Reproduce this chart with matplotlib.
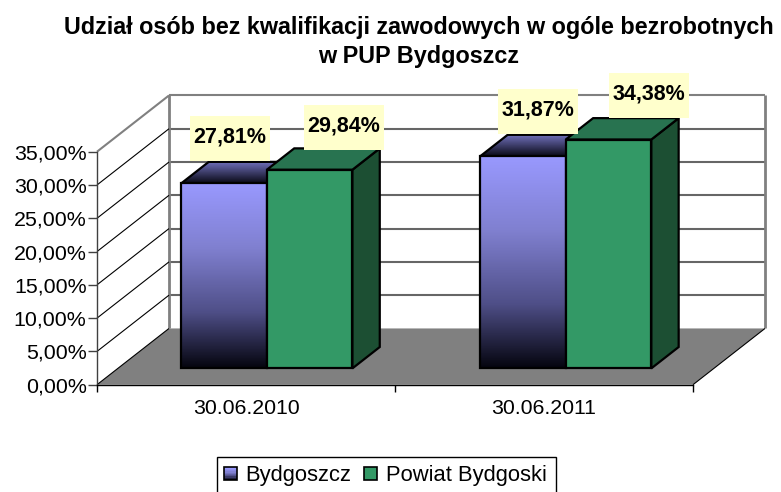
import numpy as np
import matplotlib
matplotlib.use("Agg")
import matplotlib.pyplot as plt
from matplotlib.colors import LinearSegmentedColormap
from matplotlib.legend_handler import HandlerBase
from matplotlib.patches import Patch, Polygon, Rectangle

plt.rcParams["font.family"] = ["Liberation Sans", "DejaVu Sans"]

title = "Udział osób bez kwalifikacji zawodowych w ogóle bezrobotnych\nw PUP Bydgoszcz"
categories = ["30.06.2010", "30.06.2011"]
series_names = ["Bydgoszcz", "Powiat Bydgoski"]
bydgoszcz = [27.81, 31.87]
powiat = [29.84, 34.38]
y_ticks = [0, 5, 10, 15, 20, 25, 30, 35]
y_labels = ["0,00%", "5,00%", "10,00%", "15,00%", "20,00%", "25,00%", "30,00%", "35,00%"]

# 3d look: how far the back wall is shifted from the front plane
DX = 72 / 298
DY = 8.45
D0 = 0.29
D1 = 0.67
W = 0.287
centers = [0.5, 1.503]

blue_cmap = LinearSegmentedColormap.from_list(
    "b", [(0, "#05050f"), (0.3, "#4f4f88"), (0.65, "#8080d0"), (1, "#9999ff")])
top_cmap = LinearSegmentedColormap.from_list("t", ["#0a0a18", "#7373bf"])
green = "#339966"
green_top = "#287350"
green_side = "#1c4f33"

fig = plt.figure(figsize=(7.81, 4.92), dpi=100)
ax = fig.add_axes([97 / 781, (492 - 384.7) / 492, 596 / 781, 233 / 492])


def proj(x, y, d):
    return (x + d * DX, y + d * DY)


def poly(points, **kw):
    p = Polygon(points, closed=True, clip_on=False, **kw)
    ax.add_patch(p)
    return p


def line(a, b, **kw):
    ax.plot([a[0], b[0]], [a[1], b[1]], clip_on=False, solid_capstyle="butt", **kw)


def gradient(cmap, points, y0, y1, zorder):
    xs = [p[0] for p in points]
    grad = np.linspace(1, 0, 128).reshape(-1, 1)
    im = ax.imshow(grad, cmap=cmap, vmin=0, vmax=1, aspect="auto",
                   extent=(min(xs), max(xs), y0, y1), zorder=zorder)
    # the top faces stick out above the axes box
    im.set_clip_box(fig.bbox)
    im.set_clip_path(Polygon(points, closed=True, transform=ax.transData))
    poly(points, fill=False, edgecolor="black", lw=1.6, zorder=zorder + 0.1)


# floor
poly([proj(0, 0, 0), proj(2, 0, 0), proj(2, 0, 1), proj(0, 0, 1)],
     facecolor="#808080", edgecolor="none", zorder=1)

# walls and gridlines
for t in y_ticks:
    wall_col = "#808080" if t in (0, 35) else "#666666"
    if t > 0:
        line(proj(0, t, 1), proj(2, t, 1), color=wall_col, lw=1.5, zorder=1)
    left_col = "#808080" if t == 35 else "black"
    line(proj(0, t, 0), proj(0, t, 1), color=left_col, lw=1.5 if t == 35 else 0.8, zorder=1.2)
line(proj(0, 0, 1), proj(0, 35, 1), color="#808080", lw=2, zorder=1.1)
line(proj(2, 0, 1), proj(2, 35, 1), color="#808080", lw=2, zorder=1.1)
line(proj(2, 0, 0), proj(2, 0, 1), color="black", lw=0.8, zorder=1.2)

# bars, left to right so that later ones cover the earlier sides
for i in range(len(categories)):
    x0 = centers[i] - W
    x1 = centers[i]
    x2 = centers[i] + W
    z = 3 + i
    v = bydgoszcz[i]
    front = [proj(x0, 0, D0), proj(x1, 0, D0), proj(x1, v, D0), proj(x0, v, D0)]
    top = [proj(x0, v, D0), proj(x1, v, D0), proj(x1, v, D1), proj(x0, v, D1)]
    gradient(top_cmap, top, front[2][1], top[2][1], z)
    gradient(blue_cmap, front, front[0][1], front[2][1], z + 0.2)

    v = powiat[i]
    front = [proj(x1, 0, D0), proj(x2, 0, D0), proj(x2, v, D0), proj(x1, v, D0)]
    top = [proj(x1, v, D0), proj(x2, v, D0), proj(x2, v, D1), proj(x1, v, D1)]
    side = [proj(x2, 0, D0), proj(x2, 0, D1), proj(x2, v, D1), proj(x2, v, D0)]
    poly(side, facecolor=green_side, edgecolor="black", lw=1.6, zorder=z + 0.3)
    poly(top, facecolor=green_top, edgecolor="black", lw=1.6, zorder=z + 0.3)
    poly(front, facecolor=green, edgecolor="black", lw=1.6, zorder=z + 0.4)

# data labels, offsets from the front left corner of each bar top
box_w = 80 / 298
box_h = 44.7 / 6.66
label_off = [(0.163, 6.75), (0.259, 6.3), (0.193, 6.7), (0.28, 6.6)]
label_vals = [bydgoszcz[0], powiat[0], bydgoszcz[1], powiat[1]]
label_x = [centers[0] - W, centers[0], centers[1] - W, centers[1]]
for val, xl, off in zip(label_vals, label_x, label_off):
    fx, fy = proj(xl, val, D0)
    cx, cy = fx + off[0], fy + off[1]
    ax.add_patch(Rectangle((cx - box_w / 2, cy - box_h / 2), box_w, box_h, facecolor="#ffffcc",
                           edgecolor="none", clip_on=False, zorder=10))
    ax.text(cx, cy + 0.2, f"{val:.2f}%".replace(".", ","), ha="center", va="center",
            fontsize=15.5, fontweight="bold", color="black", zorder=11, clip_on=False)

ax.set_xlim(0, 2)
ax.set_ylim(0, 35)
ax.patch.set_visible(False)
for s in ["top", "right"]:
    ax.spines[s].set_visible(False)
ax.spines["bottom"].set_linewidth(1)
ax.spines["bottom"].set_zorder(2)
ax.spines["left"].set_linewidth(1)
ax.spines["left"].set_color("#404040")
ax.spines["left"].set_zorder(2)
ax.set_yticks(y_ticks)
ax.set_yticklabels(y_labels, fontsize=15.4)
ax.set_xticks([0, 1, 2])
ax.set_xticklabels([])
ax.set_xticks([0.5, 1.5], minor=True)
ax.set_xticklabels(categories, minor=True, fontsize=15.3)
ax.tick_params(axis="x", which="minor", length=0, pad=10)
ax.tick_params(axis="x", which="major", length=5, width=1)
ax.tick_params(axis="y", length=6.5, width=1, pad=1, color="#404040")

fig.text(419 / 781, 1 - 42 / 492, title, ha="center", va="center", fontsize=16.8,
         fontweight="bold", linespacing=1.38)


class GradHandler(HandlerBase):
    def create_artists(self, legend, orig, xd, yd, w, h, fontsize, trans):
        n = 10
        side = w
        y0 = yd + (h - side) / 2
        arts = []
        for k in range(n):
            r = Rectangle((xd, y0 + side * k / n), side, side / n,
                          facecolor=blue_cmap(k / (n - 1)), edgecolor="none", transform=trans)
            arts.append(r)
        arts.append(Rectangle((xd, y0), side, side, fill=False,
                              edgecolor="black", lw=1.2, transform=trans))
        return arts


class SquareHandler(HandlerBase):
    def create_artists(self, legend, orig, xd, yd, w, h, fontsize, trans):
        side = w
        y0 = yd + (h - side) / 2
        return [Rectangle((xd, y0), side, side, facecolor=green,
                          edgecolor="black", lw=1.2, transform=trans)]


# legend frame runs off the bottom of the picture in the original
fig.add_artist(Rectangle((217 / 781, 1 - 497 / 492), 338.7 / 781, 40.3 / 492, facecolor="white",
                         edgecolor="black", lw=1, transform=fig.transFigure))
h1 = Patch(facecolor="#9999ff")
h2 = Patch(facecolor=green)
fig.legend([h1, h2], series_names, ncol=2, fontsize=15.8,
           loc="center", bbox_to_anchor=(385 / 781, 1 - 476 / 492),
           handler_map={h1: GradHandler(), h2: SquareHandler()},
           frameon=False,
           handlelength=0.6, handletextpad=0.4, columnspacing=0.55,
           borderpad=0, borderaxespad=0)

fig.savefig("out.png", dpi=100)
